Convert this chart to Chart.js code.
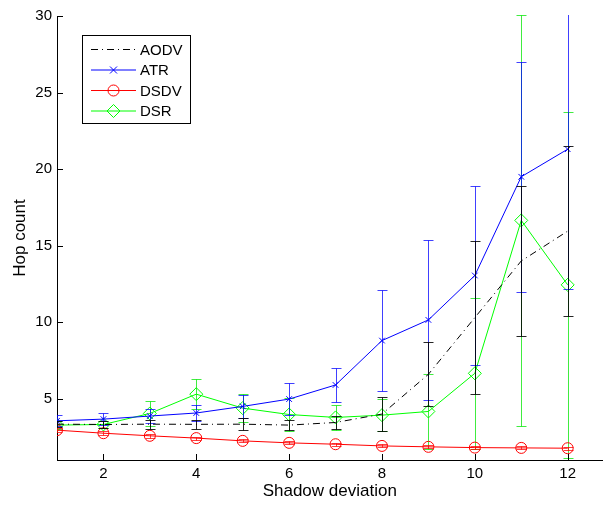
<!DOCTYPE html>
<html>
<head>
<meta charset="utf-8">
<script src="https://cdn.jsdelivr.net/npm/chart.js@4.4.0/dist/chart.umd.min.js"></script>
<style>
  html, body { margin: 0; padding: 0; background: #fff; }
  #wrap { width: 610px; height: 507px; }
</style>
</head>
<body>
<div id="wrap"><canvas id="hops" width="610" height="507"></canvas></div>
<script>
// values
const deviation = [1, 2, 3, 4, 5, 6, 7, 8, 9, 10, 11, 12];

const aodv = [3.34, 3.32, 3.34, 3.33, 3.34, 3.28, 3.45, 4.0, 6.6, 10.3, 14.0, 15.95];
const aodvErr = [0.2, 0.25, 0.3, 0.3, 0.4, 0.33, 0.45, 1.1, 2.1, 5.0, 4.9, 5.55];

const atr = [3.56, 3.67, 3.87, 4.07, 4.5, 4.98, 5.9, 8.8, 10.15, 13.05, 19.5, 21.3];
const atrErr = [0.37, 0.4, 0.46, 0.52, 0.74, 1.05, 1.1, 3.3, 5.25, 5.85, 7.5, 9.1];

const dsdv = [2.95, 2.75, 2.58, 2.43, 2.25, 2.12, 2.03, 1.92, 1.86, 1.81, 1.79, 1.77];
const dsdvErr = [0.15, 0.12, 0.12, 0.1, 0.1, 0.1, 0.1, 0.1, 0.1, 0.1, 0.1, 0.1];

const dsr = [3.28, 3.32, 4.04, 5.3, 4.39, 3.97, 3.78, 3.93, 4.17, 6.66, 16.65, 12.44];
const dsrErr = [0.25, 0.25, 0.83, 1.0, 0.9, 1.07, 0.81, 1.03, 2.45, 4.94, 13.4, 11.3];

const xTicks = [2, 4, 6, 8, 10, 12];
const yTicks = [5, 10, 15, 20, 25, 30];

const FONT = "'Liberation Sans', Arial, Helvetica, sans-serif";

const pts = (ys) => deviation.map((x, i) => ({ x: x, y: ys[i] }));

// MATLAB style error bars, drawn right after each series
const errorBars = {
  id: "errorBars",
  afterDatasetDraw(chart, args) {
    const ds = chart.data.datasets[args.index];
    if (!ds.err) return;
    const { ctx, chartArea, scales } = chart;
    ctx.save();
    ctx.beginPath();
    ctx.rect(chartArea.left, chartArea.top - 1, chartArea.width, chartArea.height + 1);
    ctx.clip();
    ctx.strokeStyle = ds.barColor;
    ctx.lineWidth = 1;
    ds.data.forEach((p, i) => {
      const px = Math.round(scales.x.getPixelForValue(p.x)) + 0.5;
      const top = Math.round(scales.y.getPixelForValue(p.y + ds.err[i])) + 0.5;
      const bot = Math.round(scales.y.getPixelForValue(p.y - ds.err[i])) + 0.5;
      ctx.beginPath();
      ctx.moveTo(px, top); ctx.lineTo(px, bot);
      ctx.moveTo(px - 5, top); ctx.lineTo(px + 5, top);
      ctx.moveTo(px - 5, bot); ctx.lineTo(px + 5, bot);
      ctx.stroke();
    });
    ctx.restore();
  },
};

// inward tick marks
const innerTicks = {
  id: "innerTicks",
  afterDraw(chart) {
    const { ctx, chartArea, scales } = chart;
    ctx.save();
    ctx.strokeStyle = "#000";
    ctx.lineWidth = 1;
    ctx.beginPath();
    xTicks.forEach((v) => {
      const px = Math.round(scales.x.getPixelForValue(v)) + 0.5;
      ctx.moveTo(px, chartArea.bottom);
      ctx.lineTo(px, chartArea.bottom - 6);
    });
    yTicks.forEach((v) => {
      const py = Math.round(scales.y.getPixelForValue(v)) + 0.5;
      ctx.moveTo(chartArea.left, py);
      ctx.lineTo(chartArea.left + 6, py);
    });
    ctx.stroke();
    ctx.restore();
  },
};

function marker(ctx, style, x, y) {
  ctx.beginPath();
  if (style === "crossRot") {
    ctx.moveTo(x - 3.5, y - 3.5); ctx.lineTo(x + 3.5, y + 3.5);
    ctx.moveTo(x - 3.5, y + 3.5); ctx.lineTo(x + 3.5, y - 3.5);
  } else if (style === "circle") {
    ctx.arc(x, y, 5.5, 0, Math.PI * 2);
  } else if (style === "rectRot") {
    ctx.moveTo(x, y - 6.5); ctx.lineTo(x + 6.5, y);
    ctx.lineTo(x, y + 6.5); ctx.lineTo(x - 6.5, y); ctx.closePath();
  }
  ctx.stroke();
}

// boxed legend in the upper left
const boxLegend = {
  id: "boxLegend",
  afterDraw(chart) {
    const ctx = chart.ctx;
    ctx.save();
    ctx.fillStyle = "#fff";
    ctx.fillRect(82.5, 35.5, 108, 88);
    ctx.strokeStyle = "#000";
    ctx.lineWidth = 1;
    ctx.strokeRect(82.5, 35.5, 108, 88);
    chart.data.datasets.forEach((ds, i) => {
      const y = 49.5 + i * 20.5;
      ctx.strokeStyle = ds.borderColor;
      ctx.setLineDash(ds.borderDash || []);
      ctx.beginPath();
      ctx.moveTo(91, y); ctx.lineTo(136, y);
      ctx.stroke();
      ctx.setLineDash([]);
      if (ds.pointStyle !== false) marker(ctx, ds.pointStyle, 113.5, y);
      ctx.fillStyle = "#000";
      ctx.font = "15px " + FONT;
      ctx.textBaseline = "middle";
      ctx.fillText(ds.label, 140, y + 1);
    });
    ctx.restore();
  },
};

new Chart(document.getElementById("hops").getContext("2d"), {
  type: "line",
  data: {
    datasets: [
      {
        label: "AODV",
        data: pts(aodv),
        err: aodvErr,
        barColor: "rgba(0,0,0,0.85)",
        borderColor: "#000",
        borderWidth: 1,
        borderDash: [7, 4, 1, 4],
        pointRadius: 0,
        pointStyle: false,
      },
      {
        label: "ATR",
        data: pts(atr),
        err: atrErr,
        barColor: "rgba(0,0,255,0.75)",
        borderColor: "#0000ff",
        borderWidth: 1,
        pointStyle: "crossRot",
        pointRadius: 4,
        pointBorderColor: "#0000ff",
        pointBackgroundColor: "rgba(0,0,0,0)",
      },
      {
        label: "DSDV",
        data: pts(dsdv),
        err: dsdvErr,
        barColor: "rgba(255,0,0,0.75)",
        borderColor: "#ff0000",
        borderWidth: 1,
        pointStyle: "circle",
        pointRadius: 5.5,
        pointBorderColor: "#ff0000",
        pointBackgroundColor: "rgba(0,0,0,0)",
      },
      {
        label: "DSR",
        data: pts(dsr),
        err: dsrErr,
        barColor: "rgba(0,230,0,0.75)",
        borderColor: "#00ff00",
        borderWidth: 1,
        pointStyle: "rectRot",
        pointRadius: 6.5,
        pointBorderColor: "#00ff00",
        pointBackgroundColor: "rgba(0,0,0,0)",
      },
    ],
  },
  options: {
    responsive: false,
    devicePixelRatio: 1,
    animation: false,
    layout: { padding: { top: 16, right: 1, left: 0, bottom: 0 } },
    plugins: { legend: { display: false }, tooltip: { enabled: false } },
    elements: { line: { tension: 0 } },
    scales: {
      x: {
        type: "linear",
        min: 1,
        max: 12.75,
        afterBuildTicks: (s) => { s.ticks = xTicks.map((v) => ({ value: v })); },
        afterFit: (s) => { s.height = 47; },
        grid: { display: false, drawTicks: false },
        border: { display: true, color: "#000", width: 1 },
        ticks: { color: "#000", padding: 5, maxRotation: 0, font: { family: FONT, size: 15 } },
        title: {
          display: true,
          text: "Shadow deviation",
          color: "#000",
          padding: { top: 0, bottom: 5 },
          font: { family: FONT, size: 17 },
        },
      },
      y: {
        min: 1,
        max: 30,
        afterBuildTicks: (s) => { s.ticks = yTicks.map((v) => ({ value: v })); },
        afterFit: (s) => { s.width = 57; },
        grid: { display: false, drawTicks: false },
        border: { display: true, color: "#000", width: 1 },
        ticks: { color: "#000", padding: 5, font: { family: FONT, size: 15 } },
        title: {
          display: true,
          text: "Hop count",
          color: "#000",
          padding: { top: 10, bottom: 0 },
          font: { family: FONT, size: 17 },
        },
      },
    },
  },
  plugins: [errorBars, innerTicks, boxLegend],
});
</script>
</body>
</html>
